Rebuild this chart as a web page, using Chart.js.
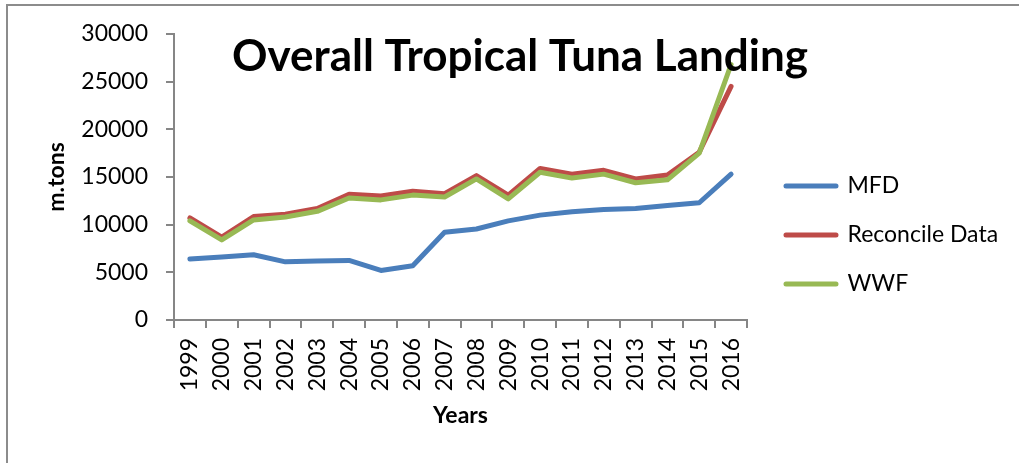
<!DOCTYPE html>
<html>
<head>
<meta charset="utf-8">
<script src="https://cdn.jsdelivr.net/npm/chart.js@4.4.0/dist/chart.umd.min.js"></script>
<style>
  html, body { margin: 0; padding: 0; background: #fff; }
</style>
</head>
<body>
<canvas id="tuna" width="1019" height="463"></canvas>
<script>
// values (m.tons)
const years = ['1999','2000','2001','2002','2003','2004','2005','2006','2007','2008',
               '2009','2010','2011','2012','2013','2014','2015','2016'];
const mfd = [6400, 6600, 6850, 6100, 6200, 6250, 5200, 5700, 9200, 9550,
             10400, 11000, 11350, 11600, 11700, 12000, 12300, 15300];
const reconcile = [10700, 8700, 10850, 11100, 11700, 13200, 13000, 13500, 13250, 15150,
                   13100, 15900, 15300, 15700, 14800, 15200, 17600, 24500];
const wwf = [10400, 8400, 10500, 10800, 11400, 12800, 12600, 13100, 12900, 14800,
             12700, 15500, 14900, 15300, 14400, 14700, 17500, 26800];
const seriesNames = ['MFD', 'Reconcile Data', 'WWF'];
const yTicks = { min: 0, max: 30000, step: 5000 };
const chartTitle = 'Overall Tropical Tuna Landing';

const axisGray = '#868686';
const fontFam = 'Lato';

// legend width is known only after measuring, so work out right padding here
const mctx = document.createElement('canvas').getContext('2d');
mctx.font = '23px ' + fontFam;
let longest = 0;
seriesNames.forEach(function(n){
    longest = Math.max(longest, mctx.measureText(n).width);
});
const legendW = 26 + 50 + 23 / 2 + longest + 10;
const padRight = Math.max(0, 1019 - 760 - legendW);

const framePlugin = {
    id: 'frame',
    beforeDraw: function(chart){
        const c = chart.ctx;
        c.save();
        c.strokeStyle = '#8c8c8c';
        c.lineWidth = 2;
        c.beginPath();
        c.moveTo(7, 463);
        c.lineTo(7, 5);
        c.lineTo(1019, 5);
        c.stroke();
        c.restore();
    }
};

const titlePlugin = {
    id: 'overlayTitle',
    afterDraw: function(chart){
        const c = chart.ctx;
        c.save();
        c.font = 'bold 44px ' + fontFam;
        c.fillStyle = '#000';
        c.textAlign = 'center';
        c.textBaseline = 'alphabetic';
        c.fillText(chartTitle, 520, 71);
        c.restore();
    }
};

function line(label, data, color, width, order){
    return {
        label: label,
        data: data,
        borderColor: color,
        backgroundColor: color,
        borderWidth: width,
        borderCapStyle: 'round',
        borderJoinStyle: 'round',
        pointRadius: 0,
        tension: 0,
        order: order
    };
}

const config = {
    type: 'line',
    data: {
        labels: years,
        datasets: [
            line(seriesNames[0], mfd, '#4a7ebb', 5, 2),
            line(seriesNames[1], reconcile, '#be4b48', 5, 1),
            line(seriesNames[2], wwf, '#98b954', 5, 0)
        ]
    },
    options: {
        responsive: false,
        animation: false,
        layout: {
            padding: { left: 0, top: 34, right: padRight, bottom: 27 }
        },
        scales: {
            x: {
                type: 'category',
                offset: true,
                grid: {
                    display: true,
                    drawOnChartArea: false,
                    offset: true,
                    tickLength: 8,
                    color: axisGray,
                    lineWidth: 2
                },
                border: { color: axisGray, width: 2 },
                ticks: {
                    minRotation: 90,
                    maxRotation: 90,
                    autoSkip: false,
                    padding: 10,
                    color: '#000',
                    font: { family: fontFam, size: 23 }
                },
                title: {
                    display: true,
                    text: 'Years',
                    color: '#000',
                    font: { family: fontFam, size: 23, weight: 'bold' },
                    padding: { top: 0, bottom: 7 }
                },
                afterFit: function(s){ s.height = 116; }
            },
            y: {
                min: yTicks.min,
                max: yTicks.max,
                grid: {
                    display: true,
                    drawOnChartArea: false,
                    tickLength: 8,
                    color: axisGray,
                    lineWidth: 2
                },
                border: { color: axisGray, width: 2 },
                ticks: {
                    stepSize: yTicks.step,
                    padding: 18,
                    color: '#000',
                    font: { family: fontFam, size: 23 },
                    callback: function(v){ return String(v); }
                },
                title: {
                    display: true,
                    text: 'm.tons',
                    color: '#000',
                    font: { family: fontFam, size: 23, weight: 'bold' },
                    padding: { top: 43, bottom: 0 }
                },
                afterFit: function(s){ s.width = 174; }
            },
            gap: {
                type: 'linear',
                position: 'right',
                display: true,
                grid: { display: false },
                border: { display: false },
                ticks: { display: false },
                afterFit: function(s){ s.width = 13; }
            }
        },
        plugins: {
            title: { display: false },
            tooltip: { enabled: false },
            legend: {
                display: true,
                position: 'right',
                align: 'center',
                maxWidth: 400,
                labels: {
                    boxWidth: 50,
                    boxHeight: 0,
                    padding: 26,
                    color: '#000',
                    font: { family: fontFam, size: 23 },
                    sort: function(a, b){ return a.datasetIndex - b.datasetIndex; }
                }
            }
        }
    },
    plugins: [framePlugin, titlePlugin]
};

new Chart(document.getElementById('tuna').getContext('2d'), config);
</script>
</body>
</html>
